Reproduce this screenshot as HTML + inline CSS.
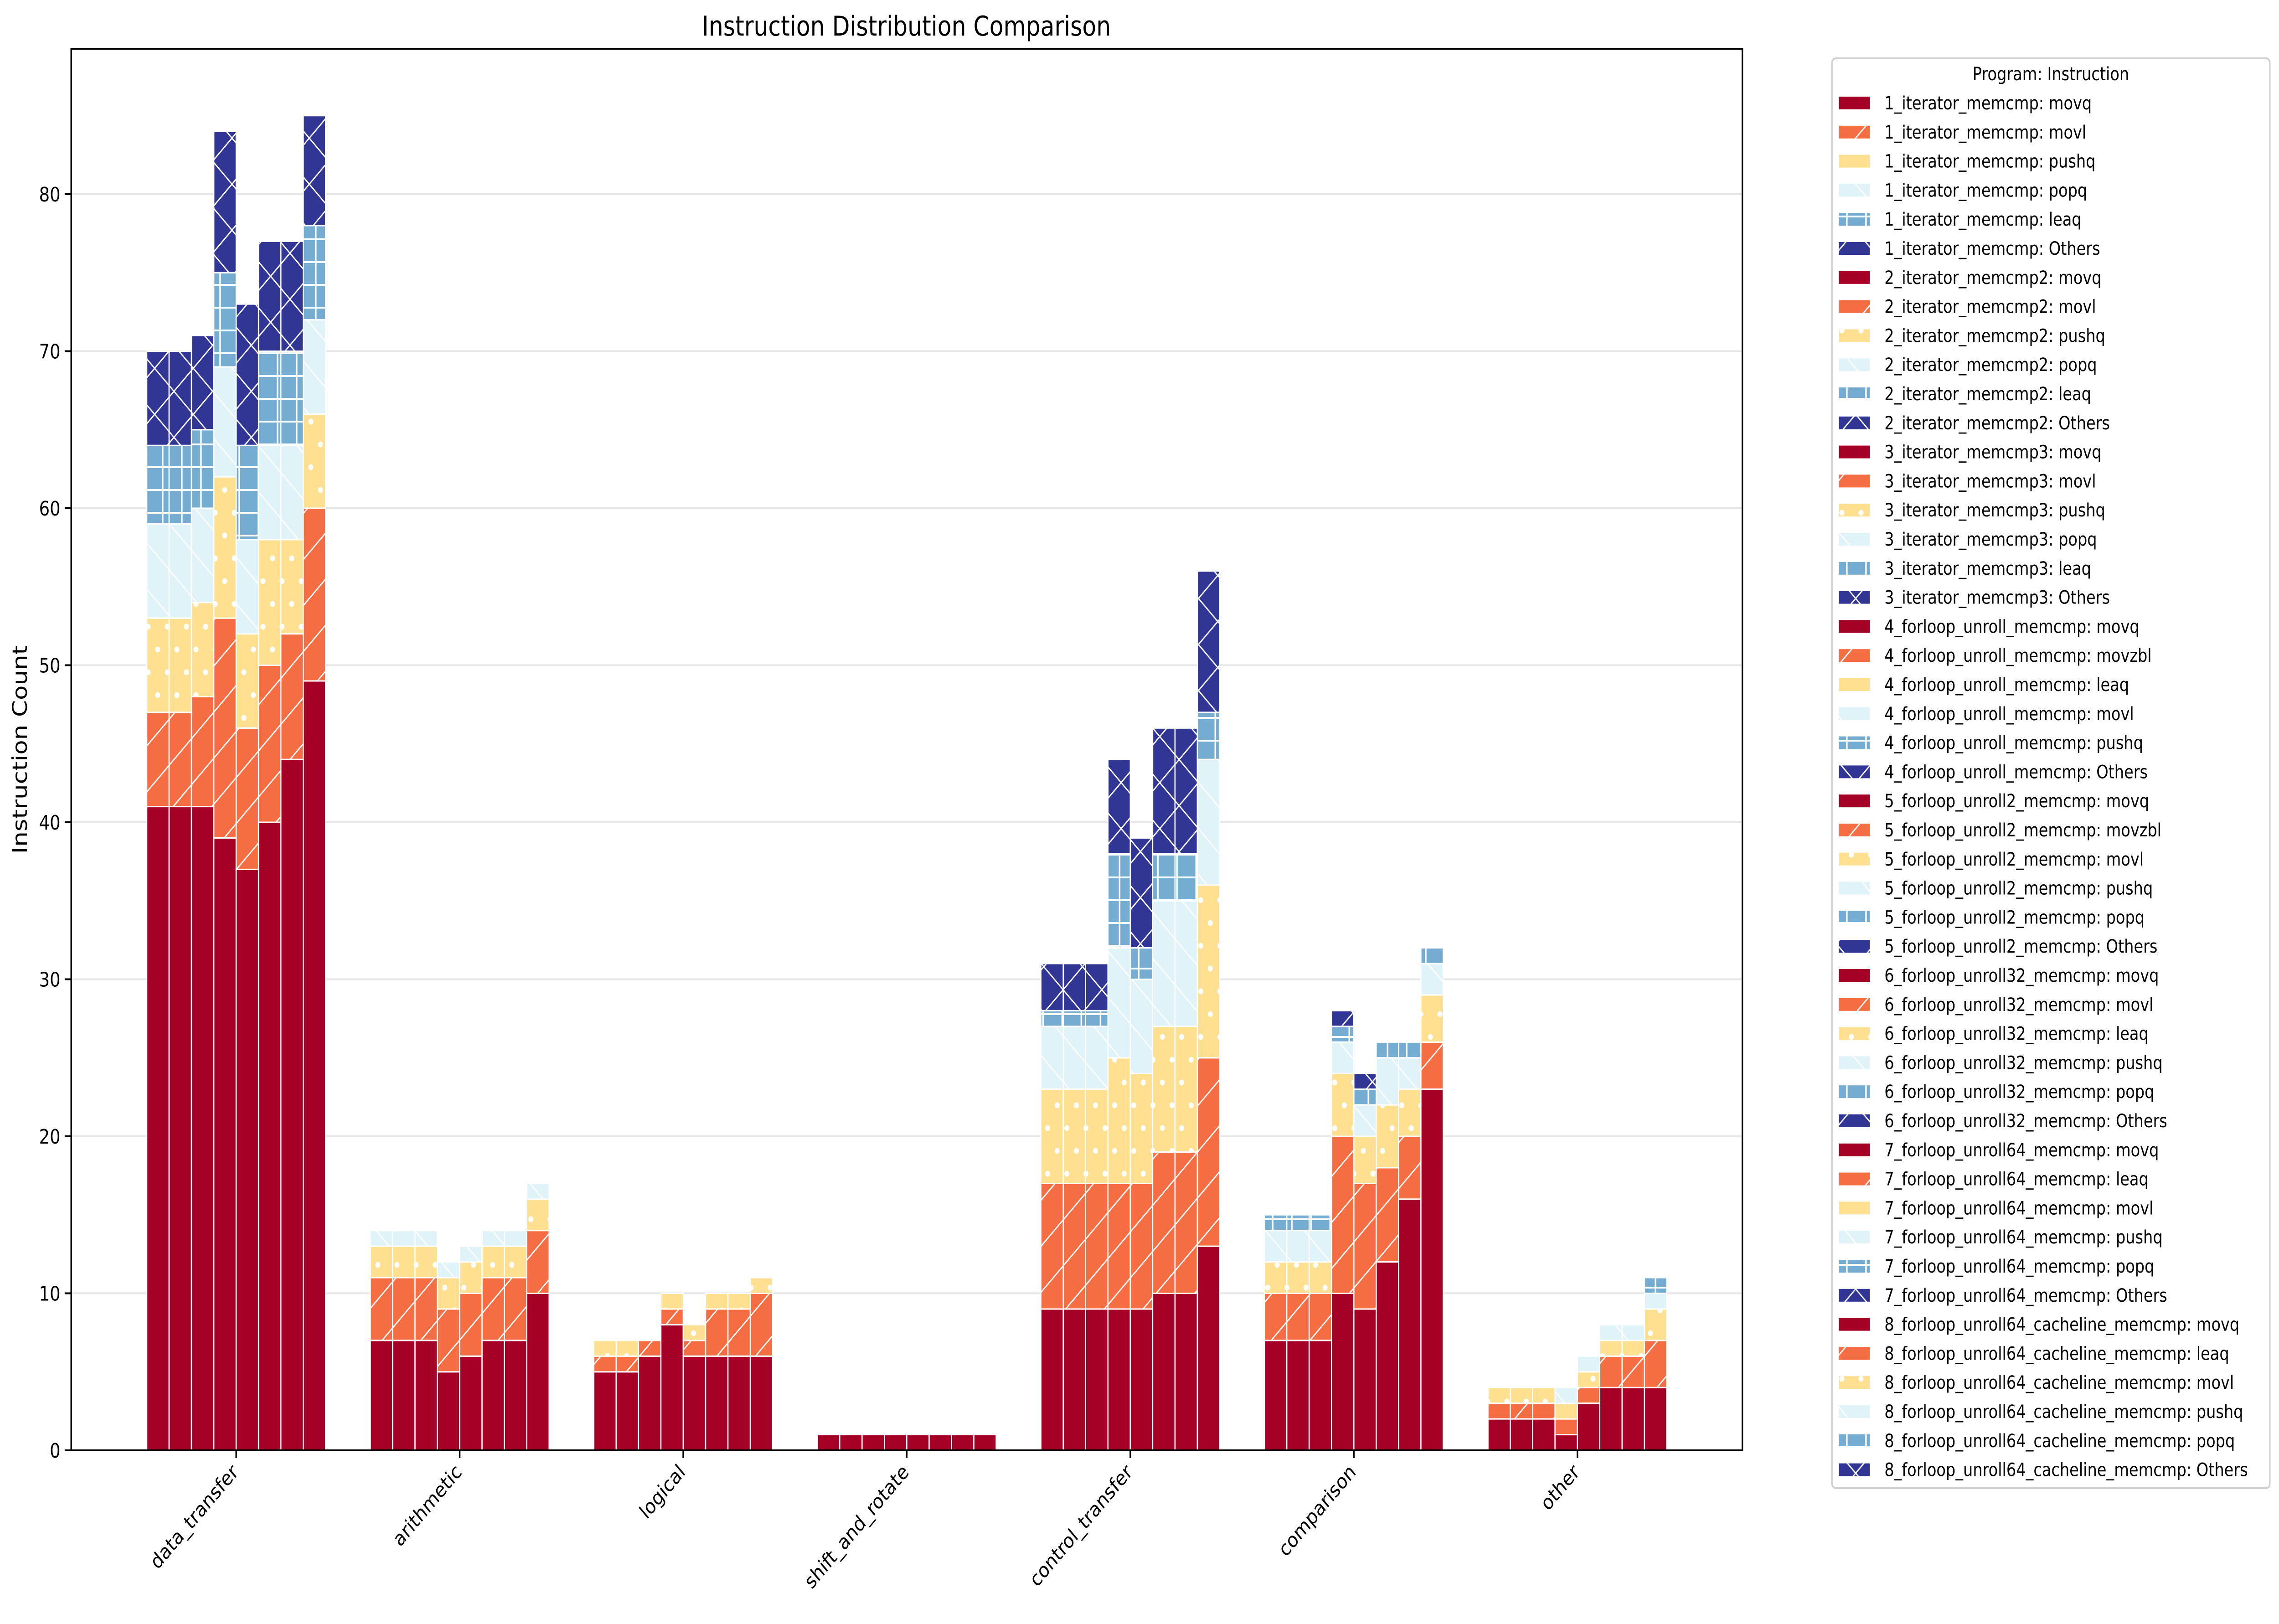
<!DOCTYPE html>
<html><head><meta charset="utf-8"><style>
html,body{margin:0;padding:0;background:#fff;overflow:hidden;width:100%;height:100%;}
svg{display:block;width:100vw;height:100vh;overflow:hidden;font-family:"DejaVu Sans","Liberation Sans",sans-serif;}
</style></head><body>
<svg id="chart" xmlns="http://www.w3.org/2000/svg" viewBox="0 0 5954 3563" preserveAspectRatio="none">
<defs>
<pattern id="h1" patternUnits="userSpaceOnUse" width="101" height="101"><rect width="101" height="101" fill="#f46d43"/><path d="M-10,111 L111,-10 M-35,35 L35,-35 M66,136 L136,66" stroke="#fff" stroke-width="3"/></pattern>
<pattern id="h2" patternUnits="userSpaceOnUse" width="50" height="100"><rect width="50" height="100" fill="#fee090"/><circle cx="12" cy="25" r="6.5" fill="#fff"/><circle cx="37" cy="75" r="6.5" fill="#fff"/></pattern>
<pattern id="h3" patternUnits="userSpaceOnUse" width="101" height="101"><rect width="101" height="101" fill="#e0f3f8"/><path d="M-10,-10 L111,111 M-35,66 L35,136 M66,-35 L136,35" stroke="#fff" stroke-width="3"/></pattern>
<pattern id="h4" patternUnits="userSpaceOnUse" width="50" height="50"><rect width="50" height="50" fill="#74add1"/><path d="M0,25 H50 M25,0 V50" stroke="#fff" stroke-width="4"/></pattern>
<pattern id="h5" patternUnits="userSpaceOnUse" width="101" height="101"><rect width="101" height="101" fill="#313695"/><path d="M-10,111 L111,-10 M-35,35 L35,-35 M66,136 L136,66 M-10,-10 L111,111 M-35,66 L35,136 M66,-35 L136,35" stroke="#fff" stroke-width="3"/></pattern>
</defs>
<rect width="5954" height="3563" fill="#fff"/>
<text x="2368" y="78" font-size="60" text-anchor="middle">Instruction Distribution Comparison</text>
<g id="grid"></g>
<g id="bars"></g>
<g id="axes"></g>
<g id="legend"></g>
</svg>
<script>
const categories = ["data_transfer","arithmetic","logical","shift_and_rotate","control_transfer","comparison","other"];
const programs = ["1_iterator_memcmp","2_iterator_memcmp2","3_iterator_memcmp3","4_forloop_unroll_memcmp","5_forloop_unroll2_memcmp","6_forloop_unroll32_memcmp","7_forloop_unroll64_memcmp","8_forloop_unroll64_cacheline_memcmp"];
const instructions1 = ["movq","movl","pushq","popq","leaq","Others"];
const instructions2 = ["movq","movl","pushq","popq","leaq","Others"];
const instructions3 = ["movq","movl","pushq","popq","leaq","Others"];
const instructions4 = ["movq","movzbl","leaq","movl","pushq","Others"];
const instructions5 = ["movq","movzbl","movl","pushq","popq","Others"];
const instructions6 = ["movq","movl","leaq","pushq","popq","Others"];
const instructions7 = ["movq","leaq","movl","pushq","popq","Others"];
const instructions8 = ["movq","leaq","movl","pushq","popq","Others"];
// segment counts per category (data_transfer, arithmetic, logical, shift, control, comparison, other)
const prog1 = [[41,6,6,6,5,6],[7,4,2,1,0,0],[5,1,1,0,0,0],[1,0,0,0,0,0],[9,8,6,4,1,3],[7,3,2,2,1,0],[2,1,1,0,0,0]];
const prog2 = [[41,6,6,6,5,6],[7,4,2,1,0,0],[5,1,1,0,0,0],[1,0,0,0,0,0],[9,8,6,4,1,3],[7,3,2,2,1,0],[2,1,1,0,0,0]];
const prog3 = [[41,7,6,6,5,6],[7,4,2,1,0,0],[6,1,0,0,0,0],[1,0,0,0,0,0],[9,8,6,4,1,3],[7,3,2,2,1,0],[2,1,1,0,0,0]];
const prog4 = [[39,14,9,7,6,9],[5,4,2,1,0,0],[8,1,1,0,0,0],[1,0,0,0,0,0],[9,8,8,7,6,6],[10,10,4,2,1,1],[1,1,1,1,0,0]];
const prog5 = [[37,9,6,6,6,9],[6,4,2,1,0,0],[6,1,1,0,0,0],[1,0,0,0,0,0],[9,8,7,6,2,7],[9,8,3,2,1,1],[3,1,1,1,0,0]];
const prog6 = [[40,10,8,6,6,7],[7,4,2,1,0,0],[6,3,1,0,0,0],[1,0,0,0,0,0],[10,9,8,8,3,8],[12,6,4,3,1,0],[4,2,1,1,0,0]];
const prog7 = [[44,8,6,6,6,7],[7,4,2,1,0,0],[6,3,1,0,0,0],[1,0,0,0,0,0],[10,9,8,8,3,8],[16,4,3,2,1,0],[4,2,1,1,0,0]];
const prog8 = [[49,11,6,6,6,7],[10,4,2,1,0,0],[6,4,1,0,0,0],[1,0,0,0,0,0],[13,12,11,8,3,9],[23,3,3,2,1,0],[4,3,2,1,1,0]];
const yTicks = [0,10,20,30,40,50,60,70,80];

const progData = [prog1,prog2,prog3,prog4,prog5,prog6,prog7,prog8];
const progInstr = [instructions1,instructions2,instructions3,instructions4,instructions5,instructions6,instructions7,instructions8];
const fills = ["#a50026","url(#h1)","url(#h2)","url(#h3)","url(#h4)","url(#h5)"];
const NS = "http://www.w3.org/2000/svg";
const L = 186, R = 4552, T = 107, B = 3182;
const xMin = -0.738, xMax = 6.738, yMax = 89.26;
function xs(v){ return L + (v - xMin) / (xMax - xMin) * (R - L); }
function ys(v){ return B - v / yMax * (B - T); }
function mk(tag, attrs, parent){ const e = document.createElementNS(NS, tag); for (const k in attrs) e.setAttribute(k, attrs[k]); parent.appendChild(e); return e; }

const grid = document.getElementById('grid');
yTicks.forEach(t => {
  if (t === 0) return;
  const g = mk('line', {x1:L, x2:R, y1:ys(t), y2:ys(t), stroke:'#e6e6e6', 'stroke-width':4}, grid);
  
  
});

const bars = document.getElementById('bars');
const bw = 0.1;
progData.forEach((pd, p) => {
  pd.forEach((segs, c) => {
    const x0 = c + (p - 4) * bw;
    let cum = 0;
    segs.forEach((v, s) => {
      if (v <= 0) return;
      const r = mk('rect', {x:xs(x0), y:ys(cum + v), width:xs(x0 + bw) - xs(x0), height:ys(cum) - ys(cum + v), fill:fills[s], stroke:'#fff', 'stroke-width':3}, bars);
      
      
      cum += v;
    });
  });
});

const axes = document.getElementById('axes');
const frame = mk('rect', {x:L, y:T, width:R - L, height:B - T, fill:'none', stroke:'#000', 'stroke-width':4}, axes);


yTicks.forEach(t => {
  const tk = mk('line', {x1:L - 17, x2:L, y1:ys(t), y2:ys(t), stroke:'#000', 'stroke-width':4}, axes);
  
  
  const tl = mk('text', {x:L - 28, y:ys(t) + 16, 'font-size':44, 'text-anchor':'end'}, axes);
  tl.textContent = t;
  
  
});
categories.forEach((c, i) => {
  const x = xs(i);
  const tk = mk('line', {x1:x, x2:x, y1:B, y2:B + 17, stroke:'#000', 'stroke-width':4}, axes);
  
  
  const tl = mk('text', {x:x + 8, y:B + 50, 'font-size':45, 'text-anchor':'end', transform:'rotate(-45 ' + (x + 8) + ' ' + (B + 50) + ')'}, axes);
  tl.textContent = c;
  
  
});
const yl = mk('text', {x:70, y:(T + B) / 2, 'font-size':53, 'text-anchor':'middle', transform:'rotate(-90 70 ' + ((T + B) / 2) + ')'}, axes);
yl.textContent = 'Instruction Count';



const legend = document.getElementById('legend');
const lb = mk('rect', {x:4786, y:128, width:1144, height:3137, rx:10, fill:'#fff', stroke:'#d0d0d0', 'stroke-width':4}, legend);


const lt = mk('text', {x:5358, y:176, 'font-size':40, 'text-anchor':'middle'}, legend);
lt.textContent = 'Program: Instruction';


let row = 0;
const maxW = 5905 - 4923;
programs.forEach((pn, p) => {
  progInstr[p].forEach((ins, s) => {
    const cy = 226 + row * 63.8;
    const sw = mk('rect', {x:4804, y:cy - 14, width:81, height:28, fill:fills[s]}, legend);
    
    
    const tx = mk('text', {x:4923, y:cy + 14, 'font-size':40}, legend);
    tx.textContent = pn + ': ' + ins;
    
    
    try {
      const w = tx.getComputedTextLength();
      if (w > maxW) tx.setAttribute('font-size', (40 * maxW / w).toFixed(2));
    } catch(e) {}
    row++;
  });
});
</script>
</body></html>
